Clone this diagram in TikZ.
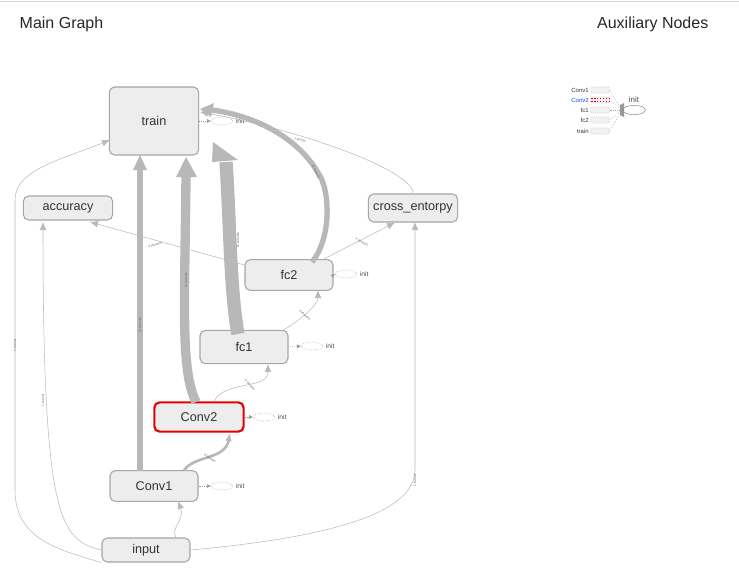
\documentclass[tikz,border=0pt]{standalone}
\usepackage{fontspec}
\setmainfont{Liberation Sans}
\usetikzlibrary{arrows.meta,shapes.geometric}
\begin{document}
\begin{tikzpicture}[x=0.75pt,y=-0.75pt,
 op/.style={draw=black!35,fill=black!7,rounded corners=4pt,line width=0.8pt,font=\fontsize{9.5}{11}\selectfont,text=black!80,inner sep=0pt},
 ed/.style={draw=black!28,-{Latex[length=6pt,width=5pt]}},
 thk/.style={draw=black!28,line cap=butt},
 lbl/.style={font=\fontsize{2.5}{3}\selectfont,text=black!60,sloped,inner sep=0.5pt},
 ini/.style={draw=black!40,densely dotted,ellipse,minimum width=16pt,minimum height=6pt,inner sep=0pt},
 initxt/.style={font=\fontsize{5}{6}\selectfont,text=black!70,anchor=west,inner sep=1pt}]
\useasboundingbox (0,0) rectangle (739,586);
\draw[black!15] (0,1) -- (739,1);
\node[anchor=west,font=\fontsize{12}{14}\selectfont,text=black!85] (mg) at (15,24) {Main Graph};
\node[anchor=east,font=\fontsize{12}{14}\selectfont,text=black!85] (an) at (713,24) {Auxiliary Nodes};
% nodes
\node[op,minimum width=67pt,minimum height=51pt] (train) at (154,121) {train};
\node[op,minimum width=67pt,minimum height=18pt] (acc) at (68,208) {accuracy};
\node[op,minimum width=67pt,minimum height=21pt] (ce) at (413,208) {cross\_entorpy};
\node[op,minimum width=66pt,minimum height=23pt] (fc2) at (289,275) {fc2};
\node[op,minimum width=66pt,minimum height=25pt] (fc1) at (244,347) {fc1};
\node[op,draw=red!90!black,line width=1.6pt,minimum width=67pt,minimum height=22pt] (conv2) at (199,417) {Conv2};
\node[op,minimum width=66pt,minimum height=23pt] (conv1) at (154,486) {Conv1};
\node[op,minimum width=66pt,minimum height=18pt] (input) at (146,550) {input};
% init markers
\foreach \n/\x/\y in {train/222/121,fc2/346/274,fc1/312/346,conv2/264/417,conv1/222/486}{
  \node[ini] (i\n) at (\x,\y) {};
  \node[initxt] (t\n) at ([xshift=1pt]i\n.east) {init};
  \draw[black!40,densely dotted,-{Latex[length=3pt,width=3pt]}] (\n.east) -- (i\n.west);
}
% thick edges to train
\draw[thk,line width=4.5pt] (140,471) -- (140,170);
\fill[black!28] (133,170) -- (147,170) -- (140,155) -- cycle;
\node[lbl,rotate=90] (l1) at (140,325) {11 tensors};
\draw[thk,line width=7pt] (196,402) .. controls (180,370) and (185,300) .. (186,175);
\fill[black!28] (176,177) -- (197,177) -- (186,157) -- cycle;
\node[lbl,rotate=90] (l2) at (186,280) {11 tensors};
\draw[thk,line width=10pt] (238,334) .. controls (230,290) and (230,220) .. (226,162);
\fill[black!28] (212,162) -- (238,160) -- (213,142) -- cycle;
\node[lbl,rotate=90] (l3) at (238,240) {11 tensors};
\draw[thk,line width=4pt] (312,262) .. controls (330,240) and (330,200) .. (322,180) .. controls (300,135) and (250,115) .. (212,110);
\fill[black!28] (214,103) -- (211,117) -- (200,109) -- cycle;
\node[lbl,rotate=-65] (l4) at (316,172) {11 tensors};
% thin edges
\draw[ed] (ce.north) .. controls (413,170) and (300,130) .. (200,112);
\node[lbl,rotate=-15] (l5) at (300,140) {1 tensor};
\draw[ed] (fc2.north east) ++(-10,0) -- (ce.south -| 395,0);
\node[lbl,rotate=-28] (l6) at (362,242) {4 tensors};
\draw[ed] (fc2.west) ++(0,-10) -- (90,222);
\node[lbl,rotate=16] (l7) at (155,245) {4 tensors};
\draw[ed] (fc1.north) ++(40,0) .. controls (300,320) and (318,305) .. (318,290);
\node[lbl,rotate=-40] (l8) at (305,315) {4 tensors};
\draw[ed] (conv2.north) ++(15,0) .. controls (225,380) and (268,390) .. (268,364);
\node[lbl,rotate=-50] (l9) at (250,385) {4 tensors};
\draw[ed,line width=2pt] (conv1.north) ++(30,0) .. controls (195,455) and (225,460) .. (230,433);
\node[lbl,rotate=-35] (l10) at (210,458) {4 tensors};
\draw[ed] (input.north) ++(30,0) .. controls (170,528) and (185,520) .. (178,501);
\draw[ed] (input.west) .. controls (60,540) and (43,520) .. (43,222);
\node[lbl,rotate=90] (l11) at (43,400) {1 tensor};
\draw[ed] (input.south west) .. controls (60,550) and (15,540) .. (15,490) -- (15,200) .. controls (15,170) and (60,160) .. (110,140);
\node[lbl,rotate=90] (l12) at (15,345) {1 tensor};
\draw[ed] (input.east) .. controls (300,540) and (415,520) .. (415,470) -- (415,222);
\node[lbl,rotate=90] (l13) at (415,480) {1 tensor};
% auxiliary nodes
\foreach \t/\y/\c in {Conv1/90/black!80,Conv2/100/blue!70!cyan,fc1/110/black!80,fc2/120/black!80,train/131/black!80}{
  \node[font=\fontsize{4.5}{5}\selectfont,text=\c,anchor=east,inner sep=0pt] (a\t) at (589,\y) {\t};
  \node[draw=black!30,densely dotted,fill=black!5,rounded corners=1pt,minimum width=14pt,minimum height=4.5pt,inner sep=0pt] (b\t) at (600,\y) {};
  \draw[black!35,densely dotted] (b\t.east) -- (622,110);
}
\draw[red,densely dotted,line width=1.2pt] (591,98.5) -- (609,98.5) (591,101.5) -- (609,101.5);
\fill[black!40] (620,105) -- (624,103) -- (624,117) -- (620,115) -- cycle;
\node[draw=black!45,ellipse,minimum width=17pt,minimum height=7pt,inner sep=0pt] (ainit) at (634,110) {};
\node[font=\fontsize{6}{7}\selectfont,text=black!70] (ainitt) at (634,100) {init};
\end{tikzpicture}
\end{document}
